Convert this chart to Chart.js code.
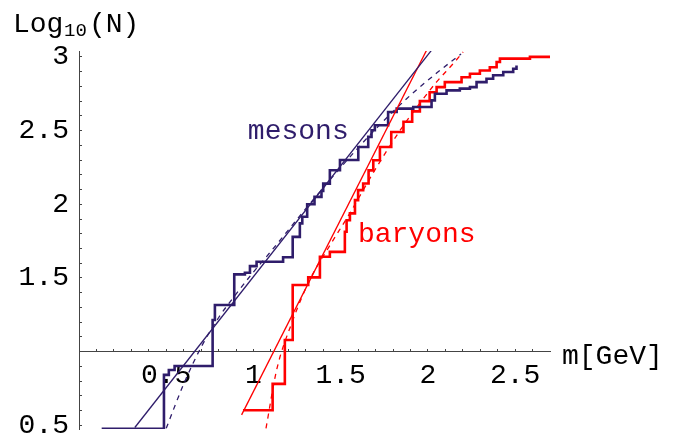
<!DOCTYPE html>
<html>
<head>
<meta charset="utf-8">
<script src="https://cdn.jsdelivr.net/npm/chart.js@4.4.0/dist/chart.umd.min.js"></script>
<style>
  html, body { margin: 0; padding: 0; background: #fff; }
</style>
</head>
<body>
<canvas id="c" width="678" height="434"></canvas>
<script>
// cumulative number of states, log10(N) against mass m [GeV]
var mesonMass = [0.13, 0.487, 0.515, 0.548, 0.766, 0.779, 0.89, 0.951, 0.98, 1.018, 1.17, 1.225,
  1.266, 1.28, 1.308, 1.35, 1.39, 1.40, 1.438, 1.496, 1.601, 1.658, 1.677, 1.696, 1.772, 1.821,
  1.916, 2.021, 2.04, 2.107, 2.183, 2.241, 2.279, 2.336, 2.374, 2.432, 2.489, 2.508];
var mesonLogN = [0.477, 0.842, 0.875, 0.903, 1.215, 1.316, 1.524, 1.535, 1.58, 1.61, 1.64, 1.779,
  1.87, 1.915, 2.0, 2.05, 2.09, 2.14, 2.231, 2.30, 2.389, 2.457, 2.502, 2.536, 2.626, 2.649,
  2.66, 2.705, 2.75, 2.773, 2.785, 2.795, 2.829, 2.852, 2.875, 2.897, 2.92, 2.942];

var baryonMass = [0.94, 1.11, 1.18, 1.225, 1.314, 1.381, 1.438, 1.524, 1.534, 1.553, 1.582, 1.60,
  1.629, 1.66, 1.687, 1.725, 1.79, 1.86, 1.91, 1.954, 2.01, 2.05, 2.097, 2.193, 2.241, 2.298,
  2.355, 2.394, 2.413, 2.585, 2.70];
var baryonLogN = [0.602, 0.781, 1.079, 1.452, 1.504, 1.644, 1.677, 1.813, 1.892, 1.938, 2.028, 2.096,
  2.141, 2.23, 2.299, 2.389, 2.49, 2.56, 2.63, 2.70, 2.76, 2.795, 2.829, 2.862, 2.886, 2.908,
  2.93, 2.965, 2.988, 3.0, 3.0];

// straight fits
var mesonFitM = [0.32, 2.02];
var mesonFitLogN = [0.485, 3.044];
var baryonFitM = [0.932, 1.992];
var baryonFitLogN = [0.571, 3.044];

// dashed fits
var mesonCurveM = [0.50, 0.60, 0.70, 0.80, 0.90, 1.00, 1.10, 1.30, 1.50, 1.70, 1.90, 2.05, 2.19];
var mesonCurveLogN = [0.48, 0.78, 1.03, 1.23, 1.39, 1.54, 1.68, 1.97, 2.25, 2.51, 2.74, 2.89, 3.02];
var baryonCurveM = [1.072, 1.133, 1.219, 1.324, 1.438, 1.553, 1.70, 1.84, 1.95, 2.05, 2.145, 2.202];
var baryonCurveLogN = [0.48, 0.876, 1.192, 1.49, 1.72, 1.94, 2.24, 2.50, 2.68, 2.83, 2.954, 3.033];

var xTickValues = [0.1, 0.2, 0.3, 0.4, 0.5, 0.6, 0.7, 0.8, 0.9, 1, 1.1, 1.2, 1.3, 1.4, 1.5,
  1.6, 1.7, 1.8, 1.9, 2, 2.1, 2.2, 2.3, 2.4, 2.5, 2.6];
var xTickLabels = ['0.5', '1', '1.5', '2', '2.5'];
var yTickValues = [0.5, 0.6, 0.7, 0.8, 0.9, 1, 1.1, 1.2, 1.3, 1.4, 1.5, 1.6, 1.7, 1.8, 1.9, 2,
  2.1, 2.2, 2.3, 2.4, 2.5, 2.6, 2.7, 2.8, 2.9, 3];
var yTickLabels = ['0.5', '1.5', '2', '2.5', '3'];

var NAVY = '#2f1d6b';
var RED = '#ff0000';
var AXIS = '#444';
var FONT = "'Liberation Mono', 'Courier New', monospace";

function pts(xs, ys) {
  return xs.map(function (x, i) { return { x: x, y: ys[i] }; });
}

// texts in the plot: label anchors in data coordinates
var mesonLabelAt = [0.968, 2.441];
var baryonLabelAt = [1.599, 1.743];

var textPlugin = {
  id: 'texts',
  afterDraw: function (chart) {
    var c = chart.ctx, sx = chart.scales.x, sy = chart.scales.y, a = chart.chartArea;
    c.save();
    c.textAlign = 'left';
    c.textBaseline = 'alphabetic';
    c.font = '28px ' + FONT;
    c.fillStyle = NAVY;
    c.fillText('mesons', sx.getPixelForValue(mesonLabelAt[0]), sy.getPixelForValue(mesonLabelAt[1]));
    c.fillStyle = RED;
    c.fillText('baryons', sx.getPixelForValue(baryonLabelAt[0]), sy.getPixelForValue(baryonLabelAt[1]));
    c.fillStyle = '#000';
    c.fillText('m[GeV]', a.right + 12, sy.getPixelForValue(1) + 12);
    // y axis title with subscript
    c.fillText('Log', 13, 32);
    c.font = '19px ' + FONT;
    c.fillText('10', 64, 36);
    c.font = '28px ' + FONT;
    c.fillText('(N)', 89, 32);
    c.restore();
  }
};

function stairs(xs, ys, color) {
  return { data: pts(xs, ys), borderColor: color, borderWidth: 2.6, stepped: true,
    pointRadius: 0, fill: false };
}
function fitLine(xs, ys, color, dash) {
  return { data: pts(xs, ys), borderColor: color, borderWidth: 1.3, borderDash: dash || [],
    pointRadius: 0, fill: false, tension: 0, cubicInterpolationMode: dash ? 'monotone' : 'default' };
}

new Chart(document.getElementById('c'), {
  type: 'line',
  data: {
    datasets: [
      fitLine(mesonFitM, mesonFitLogN, NAVY),
      fitLine(baryonFitM, baryonFitLogN, RED),
      fitLine(mesonCurveM, mesonCurveLogN, NAVY, [5, 5]),
      fitLine(baryonCurveM, baryonCurveLogN, RED, [5, 5]),
      stairs(mesonMass, mesonLogN, NAVY),
      stairs(baryonMass, baryonLogN, RED)
    ]
  },
  options: {
    responsive: false,
    animation: false,
    layout: { padding: { left: 18.6, right: 128, top: 51, bottom: 5 } },
    plugins: { legend: { display: false }, tooltip: { enabled: false } },
    scales: {
      x: {
        type: 'linear', min: 0, max: 2.7,
        position: { y: 1 },
        afterBuildTicks: function (s) { s.ticks = xTickValues.map(function (v) { return { value: v }; }); },
        afterFit: function (s) { s.paddingLeft = 0; s.paddingRight = 0; },
        grid: { drawOnChartArea: false, drawTicks: true, tickLength: -3, color: AXIS },
        border: { color: AXIS, width: 1 },
        ticks: {
          autoSkip: false, maxRotation: 0, padding: 10, color: '#000',
          font: { family: FONT, size: 28 },
          callback: function (v) { return xTickLabels.indexOf(String(v)) >= 0 ? String(v) : ''; }
        }
      },
      y: {
        type: 'linear', min: 0.475, max: 3.04,
        position: 'left',
        afterBuildTicks: function (s) { s.ticks = yTickValues.map(function (v) { return { value: v }; }); },
        afterFit: function (s) { s.paddingTop = 0; s.paddingBottom = 0; s.width = 60.4; },
        grid: { drawOnChartArea: false, drawTicks: true, tickLength: -3, color: AXIS },
        border: { color: AXIS, width: 1 },
        ticks: {
          autoSkip: false, padding: 13, color: '#000',
          font: { family: FONT, size: 28 },
          callback: function (v) { return yTickLabels.indexOf(String(v)) >= 0 ? String(v) : ''; }
        }
      }
    }
  },
  plugins: [textPlugin]
});
</script>
</body>
</html>
